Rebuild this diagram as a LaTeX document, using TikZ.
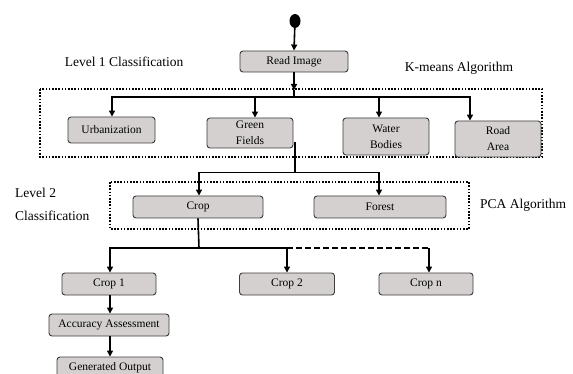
\documentclass[tikz,border=0pt]{standalone}
\usepackage{fontspec}
\setmainfont{Liberation Serif}
\usetikzlibrary{arrows.meta,shapes.geometric}
\definecolor{boxfill}{RGB}{212,208,208}
\definecolor{boxline}{RGB}{60,60,60}
\tikzset{
  stepbox/.style={draw=boxline, line width=0.9pt, fill=boxfill, rounded corners=3pt,
    inner sep=0pt, align=center, font=\fontsize{11.5}{16}\selectfont},
  conn/.style={line width=1.6pt, black},
  arr/.style={conn, -{Triangle[length=6pt,width=6pt]}},
  dashconn/.style={conn, dash pattern=on 6pt off 3pt},
  dotbox/.style={draw, line width=1.8pt, dash pattern=on 1.6pt off 1.6pt},
  lbl/.style={font=\fontsize{13.5}{17}\selectfont, inner sep=0pt}
}
\begin{document}
\begin{tikzpicture}[x=1pt,y=-1pt]
\clip (0,0) rectangle (573,374);
\fill[white] (0,0) rectangle (573,374);

% dotted groups
\draw[dotbox] (40,89) rectangle (542,157);
\draw[dotbox] (110,182) rectangle (469,229);

% labels
\node[lbl] (l1) at (124,62) {Level 1 Classification};
\node[lbl] (km) at (459,68) {K-means Algorithm};
\node[lbl, align=left, anchor=west, font=\fontsize{13.5}{23}\selectfont] (l2) at (15,204.5) {Level 2\\Classification};
\node[lbl, anchor=west] (pca) at (480,205) {PCA Algorithm};

% start
\node[ellipse, fill=black, minimum width=11pt, minimum height=14pt, inner sep=0pt] (start) at (295,21) {};

% boxes
\node[stepbox, minimum width=108pt, minimum height=21pt] (ri) at (294,61.5) {Read Image};
\node[stepbox, minimum width=87pt, minimum height=26pt] (urb) at (111.5,130) {Urbanization};
\node[stepbox, minimum width=86pt, minimum height=30pt] (gf) at (250,133) {Green\\Fields};
\node[stepbox, minimum width=86pt, minimum height=37pt] (wb) at (386,136.5) {Water\\Bodies};
\node[stepbox, minimum width=86pt, minimum height=36pt] (ra) at (498,139) {Road\\Area};
\node[stepbox, minimum width=130pt, minimum height=22pt] (crop) at (198,207) {Crop};
\node[stepbox, minimum width=132pt, minimum height=22pt] (forest) at (380,207) {Forest};
\node[stepbox, minimum width=94pt, minimum height=22pt] (c1) at (109,284) {Crop 1};
\node[stepbox, minimum width=95pt, minimum height=22pt] (c2) at (287,284) {Crop 2};
\node[stepbox, minimum width=94pt, minimum height=22pt] (cn) at (426,284) {Crop n};
\node[stepbox, minimum width=120pt, minimum height=22pt] (acc) at (109,325) {Accuracy Assessment};
\node[stepbox, minimum width=106pt, minimum height=22pt] (gen) at (110,368) {Generated Output};

% junction coordinates
\coordinate (k1) at (294,90);
\coordinate (j1) at (294,97);
\coordinate (g1) at (295,142);
\coordinate (j2) at (295,172.5);
\coordinate (j3) at (199,248);

% connectors
\draw[arr] (start) -- (ri.north);
\draw[arr] (ri.south) -- (k1);
\draw[conn] (k1) -- (j1);
\draw[arr] (j1) -| ([xshift=0.5pt]urb.north);
\draw[arr] (j1) -| ([xshift=5pt]gf.north);
\draw[arr] (j1) -| ([xshift=-7pt]wb.north);
\draw[arr] (j1) -| ([xshift=-28pt]ra.north);

\draw[conn] (g1) -- (j2);
\draw[arr] (j2) -| ([xshift=1pt]crop.north);
\draw[arr] (j2) -| ([xshift=-1pt]forest.north);

\draw[conn] (crop.south) -- (j3);
\draw[arr] (j3) -| ([xshift=1pt]c1.north);
\draw[arr] (j3) -| (c2.north);
\coordinate (jn) at ([xshift=3pt]cn.north |- j3);
\draw[dashconn] (c2.north |- j3) -- (jn);
\draw[arr] (jn) -- ([xshift=3pt]cn.north);

\draw[arr] ([xshift=1pt]c1.south) -- ([xshift=1pt]acc.north);
\draw[arr] ([xshift=1pt]acc.south) -- ([xshift=0pt]gen.north);
\end{tikzpicture}
\end{document}
